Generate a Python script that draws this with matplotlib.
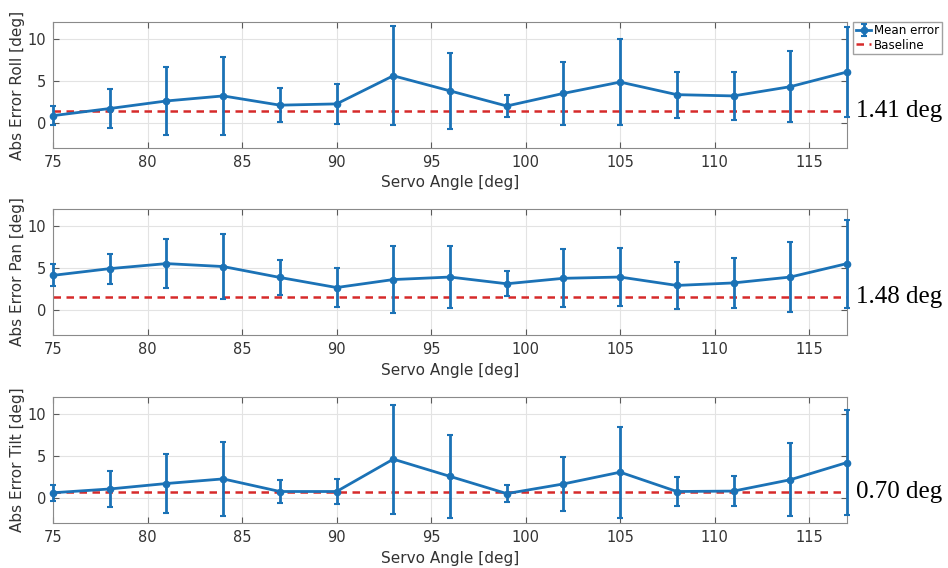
import numpy as np
import matplotlib
matplotlib.use("Agg")
import matplotlib.pyplot as plt

angles = [75, 78, 81, 84, 87, 90, 93, 96, 99, 102, 105, 108, 111, 114, 117]

roll_mean = [0.85, 1.7, 2.6, 3.2, 2.1, 2.25, 5.6, 3.8, 2.0, 3.5, 4.85, 3.35, 3.2, 4.3, 6.05]
roll_err = [1.1, 2.3, 4.05, 4.6, 2.0, 2.4, 5.9, 4.55, 1.33, 3.75, 5.1, 2.75, 2.9, 4.2, 5.35]

pan_mean = [4.1, 4.9, 5.5, 5.15, 3.85, 2.65, 3.6, 3.9, 3.1, 3.75, 3.9, 2.9, 3.2, 3.9, 5.5]
pan_err = [1.3, 1.8, 2.9, 3.85, 2.1, 2.33, 3.95, 3.7, 1.46, 3.46, 3.45, 2.8, 2.95, 4.2, 5.25]

tilt_mean = [0.6, 1.05, 1.7, 2.25, 0.75, 0.75, 4.6, 2.55, 0.5, 1.65, 3.05, 0.75, 0.8, 2.15, 4.2]
tilt_err = [0.93, 2.1, 3.5, 4.37, 1.33, 1.52, 6.5, 4.9, 1.0, 3.25, 5.4, 1.67, 1.75, 4.35, 6.25]

baselines = [1.41, 1.48, 0.70]
ylabels = ["Abs Error Roll [deg]", "Abs Error Pan [deg]", "Abs Error Tilt [deg]"]

blue = "#1b72b6"
red = "#d62a2a"
gray = "#5a5a5a"

fig = plt.figure(figsize=(9.48, 5.68), dpi=100)
# axes boxes in pixels: left 53, right 847; tops 22, 209, 397; height 126
W, H = 948, 568
tops = [22, 209, 397]
series = [(roll_mean, roll_err), (pan_mean, pan_err), (tilt_mean, tilt_err)]

for i, (mean, err) in enumerate(series):
    ax = fig.add_axes([53 / W, 1 - (tops[i] + 126) / H, 794 / W, 126 / H])
    eb = ax.errorbar(angles, mean, yerr=err, color=blue, lw=2, marker="o", ms=4.5,
                     capsize=2.5, capthick=1.5, elinewidth=2, label="Mean error",
                     clip_on=False, zorder=3)
    bl = ax.axhline(baselines[i], color=red, ls=(0, (3, 2.2)), lw=1.8, label="Baseline")
    ax.set_xlim(75, 117)
    ax.set_ylim(-3, 12)
    ax.set_xticks([75, 80, 85, 90, 95, 100, 105, 110, 115])
    ax.set_yticks([0, 5, 10])
    ax.grid(True, color="#e3e3e3", lw=0.8)
    ax.set_axisbelow(True)
    ax.tick_params(direction="in", top=True, right=True, length=4, width=0.8,
                   colors=gray, labelsize=10.5, labelcolor="#333333", pad=5)
    for s in ax.spines.values():
        s.set_color("#8a8a8a")
        s.set_linewidth(0.8)
    ax.set_xlabel("Servo Angle [deg]", fontsize=11, color="#333333", labelpad=4)
    ax.set_ylabel(ylabels[i], fontsize=11, color="#333333", labelpad=2)
    ax.text(1.011, baselines[i], "%.2f deg" % baselines[i],
            transform=ax.get_yaxis_transform(), va="center", ha="left",
            family=["Liberation Serif", "DejaVu Serif"],
            fontsize=18, color="black")
    if i == 0:
        ax.legend([eb, bl], ["Mean error", "Baseline"], loc="upper left",
                  bbox_to_anchor=(1.008, 1.0), fontsize=8.6,
                  frameon=True, fancybox=False, edgecolor="#8a8a8a",
                  borderpad=0.2, handlelength=1.3, handletextpad=0.25,
                  labelspacing=0.1, borderaxespad=0.0)

plt.savefig("out.png", dpi=100)
